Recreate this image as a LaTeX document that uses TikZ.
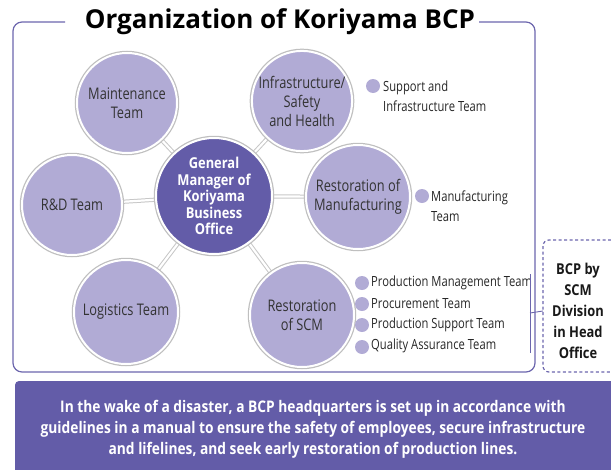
\documentclass[tikz,border=0pt]{standalone}
\usepackage{fontspec}
\usetikzlibrary{backgrounds}
\setmainfont{Open Sans}
\newfontfamily\condfont[FakeStretch=0.80]{Open Sans}
\newfontfamily\semicond[FakeStretch=0.86]{Open Sans}
\definecolor{lightp}{HTML}{B1ABD5}
\definecolor{darkp}{HTML}{635CA8}
\definecolor{framep}{HTML}{6C66AD}
\definecolor{txt}{HTML}{333333}
\tikzset{
  team/.style={circle, fill=lightp, draw=white, line width=2pt, minimum size=100pt, inner sep=0pt,
    preaction={draw=black!25, line width=4.5pt},
    align=center, text=txt, font=\condfont\fontsize{16}{19}\selectfont},
  boss/.style={team, fill=darkp, minimum size=116pt, text=white,
    font=\semicond\bfseries\fontsize{15}{16.5}\selectfont},
  link/.style={draw=black!22, double=white, double distance=2.2pt, line width=1pt},
  bullet/.style={circle, fill=lightp, minimum size=14pt, inner sep=0pt},
  btext/.style={anchor=west, align=left, inner sep=0pt, text=black!85, font=\condfont\fontsize{14}{20}\selectfont},
  framel/.style={draw=framep, line width=1.2pt},
}
\begin{document}
\begin{tikzpicture}[x=1pt,y=-1pt]
\useasboundingbox (0,0) rectangle (611,469);
% frame
\draw[framel, rounded corners=9pt] (65,22) -- (13,22) -- (13,372) -- (535,372) -- (535,22) -- (479,22);
\node[font=\bfseries\fontsize{26}{30}\selectfont, text=black] (title) at (280,22) {Organization of Koriyama BCP};
% nodes
\node[boss] (gm) at (214,196) {General\\Manager of\\Koriyama\\Business\\Office};
\node[team] (mt) at (127,103) {Maintenance\\Team};
\node[team] (inf) at (302,101) {Infrastructure/\\Safety\\and Health};
\node[team] (rd) at (72,205) {R\&D Team};
\node[team, minimum size=104pt] (rm) at (358,197) {Restoration of\\Manufacturing};
\node[team, minimum size=104pt] (lg) at (126,312) {Logistics Team};
\node[team, minimum size=104pt] (scm) at (302,315) {Restoration\\of SCM};
\begin{scope}[on background layer]
\foreach \t in {mt,inf,rd,rm,lg,scm} \draw[link] (gm.center) -- (\t.center);
\end{scope}
% bullets
\node[bullet] (b1) at (373,86) {};
\node[btext] (t1) at (383,96) {Support and\\Infrastructure Team};
\node[bullet] (b2) at (422,196) {};
\node[btext] (t2) at (431,206) {Manufacturing\\Team};
\node[bullet] (b3) at (362,283) {};
\node[btext] (t3) at (371,283) {Production Management Team};
\node[bullet] (b4) at (362,304) {};
\node[btext] (t4) at (371,304) {Procurement Team};
\node[bullet] (b5) at (362,325) {};
\node[btext] (t5) at (371,325) {Production Support Team};
\node[bullet] (b6) at (362,347) {};
\node[btext] (t6) at (371,346) {Quality Assurance Team};
% bracket
\coordinate (bt) at (530,274);
\coordinate (bb) at (530,353);
\coordinate (bm) at (530,313);
\draw[framel, line width=0.9pt] (bt) -- (bb);
% dashed box
\draw[framel, dashed, dash pattern=on 3pt off 2.5pt, rounded corners=6pt] (611,240) -- (543,240) -- (543,372) -- (611,372);
\node[align=center, font=\semicond\bfseries\fontsize{15}{21}\selectfont, text=black!90] (hq) at (578,311) {BCP by\\SCM\\Division\\in Head\\Office};
\draw[framel, line width=0.9pt] (bm) -- (hq.west -| 543,0);
% bottom box
\fill[darkp, rounded corners=4pt] (15,381) rectangle (620,475);
\node[align=center, text=white, font=\semicond\bfseries\fontsize{16}{21}\selectfont] (note) at (313,429)
  {In the wake of a disaster, a BCP headquarters is set up in accordance with\\
   guidelines in a manual to ensure the safety of employees, secure infrastructure\\
   and lifelines, and seek early restoration of production lines.};
\end{tikzpicture}
\end{document}
